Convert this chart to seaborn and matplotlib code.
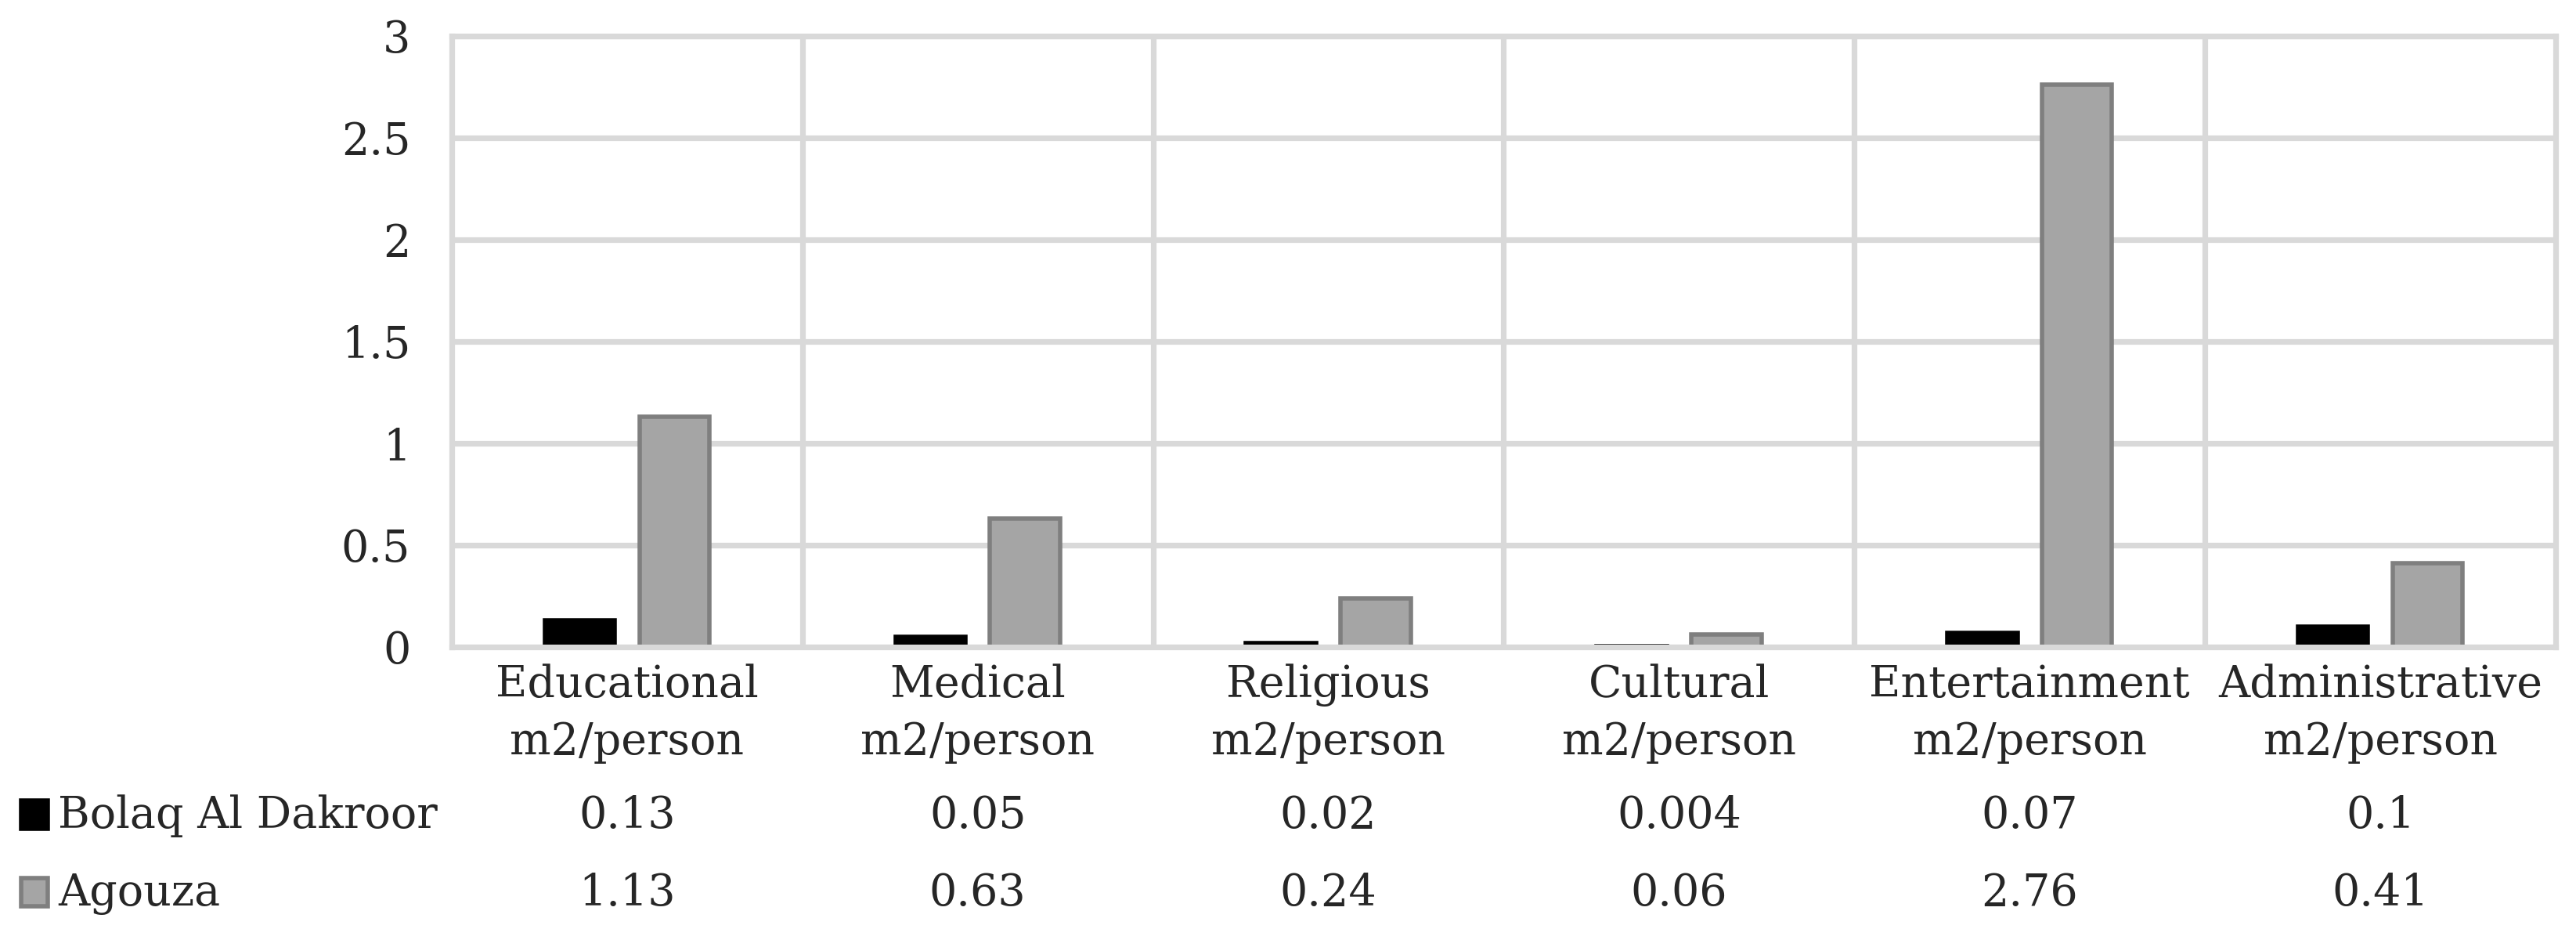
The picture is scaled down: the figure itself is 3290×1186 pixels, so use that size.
import numpy as np
import pandas as pd
import matplotlib.pyplot as plt
import seaborn as sns
from matplotlib.patches import Rectangle

# ---------- data ----------
categories = ["Educational\nm2/person", "Medical\nm2/person", "Religious\nm2/person",
              "Cultural\nm2/person", "Entertainment\nm2/person", "Administrative\nm2/person"]
series = ["Bolaq Al Dakroor", "Agouza"]
bolaq = [0.13, 0.05, 0.02, 0.004, 0.07, 0.1]
agouza = [1.13, 0.63, 0.24, 0.06, 2.76, 0.41]
y_ticks = [0, 0.5, 1, 1.5, 2, 2.5, 3]

fills = ["#000000", "#a5a5a5"]
edges = ["#000000", "#7f7f7f"]
grid_c = "#d9d9d9"

df = pd.DataFrame({
    "category": categories * 2,
    "series": [series[0]] * len(categories) + [series[1]] * len(categories),
    "value": bolaq + agouza,
})

sns.set_style("white")
plt.rcParams["font.family"] = ["DejaVu Serif"]
FS = 20

W, H = 3291, 1186
fig = plt.figure(figsize=(W / 200, H / 200), dpi=200)
left, right, top, bottom = 577, 3264, 46, 826
ax = fig.add_axes([left / W, 1 - bottom / H, (right - left) / W, (bottom - top) / H])

sns.barplot(data=df, x="category", y="value", hue="series", order=categories,
            hue_order=series, palette=fills, width=0.54, gap=0.26,
            errorbar=None, legend=False, ax=ax, saturation=1)
for cont, ec in zip(ax.containers, edges):
    for bar in cont:
        bar.set_edgecolor(ec)
        bar.set_linewidth(2)

ax.set_xlim(-0.5, len(categories) - 0.5)
ax.set_ylim(0, 3)
ax.set_yticks(y_ticks)
ax.set_yticklabels([f"{t:g}" for t in y_ticks], fontsize=FS)
ax.set_xticklabels(categories, fontsize=FS, linespacing=1.42)
ax.set_xlabel("")
ax.set_ylabel("")
ax.tick_params(axis="both", length=0)
ax.tick_params(axis="y", pad=19)
ax.tick_params(axis="x", pad=7.8)

ax.set_axisbelow(True)
ax.yaxis.grid(True, color=grid_c, lw=2.6)
ax.set_xticks(np.arange(0.5, len(categories) - 0.5, 1), minor=True)
ax.xaxis.grid(True, which="minor", color=grid_c, lw=2.6)
ax.tick_params(axis="x", which="minor", length=0)
for sp in ax.spines.values():
    sp.set_color(grid_c)
    sp.set_linewidth(2.6)

# ---------- data table ----------
rows = [bolaq, agouza]
baselines = [1057, 1156]
for r, (name, vals, base) in enumerate(zip(series, rows, baselines)):
    yb = 1 - base / H
    fig.patches.append(Rectangle((27 / W, 1 - (base + 1) / H), 34 / W, 36 / H,
                                 transform=fig.transFigure, facecolor=fills[r],
                                 edgecolor=edges[r], lw=2))
    fig.text(74 / W, yb, name, fontsize=FS, va="baseline", ha="left")
    for i, v in enumerate(vals):
        x_fig = (left + (i + 0.5) * (right - left) / len(categories)) / W
        fig.text(x_fig, yb, f"{v:g}", fontsize=FS, va="baseline", ha="center")

fig.savefig("out.png", dpi=200, facecolor="white")
